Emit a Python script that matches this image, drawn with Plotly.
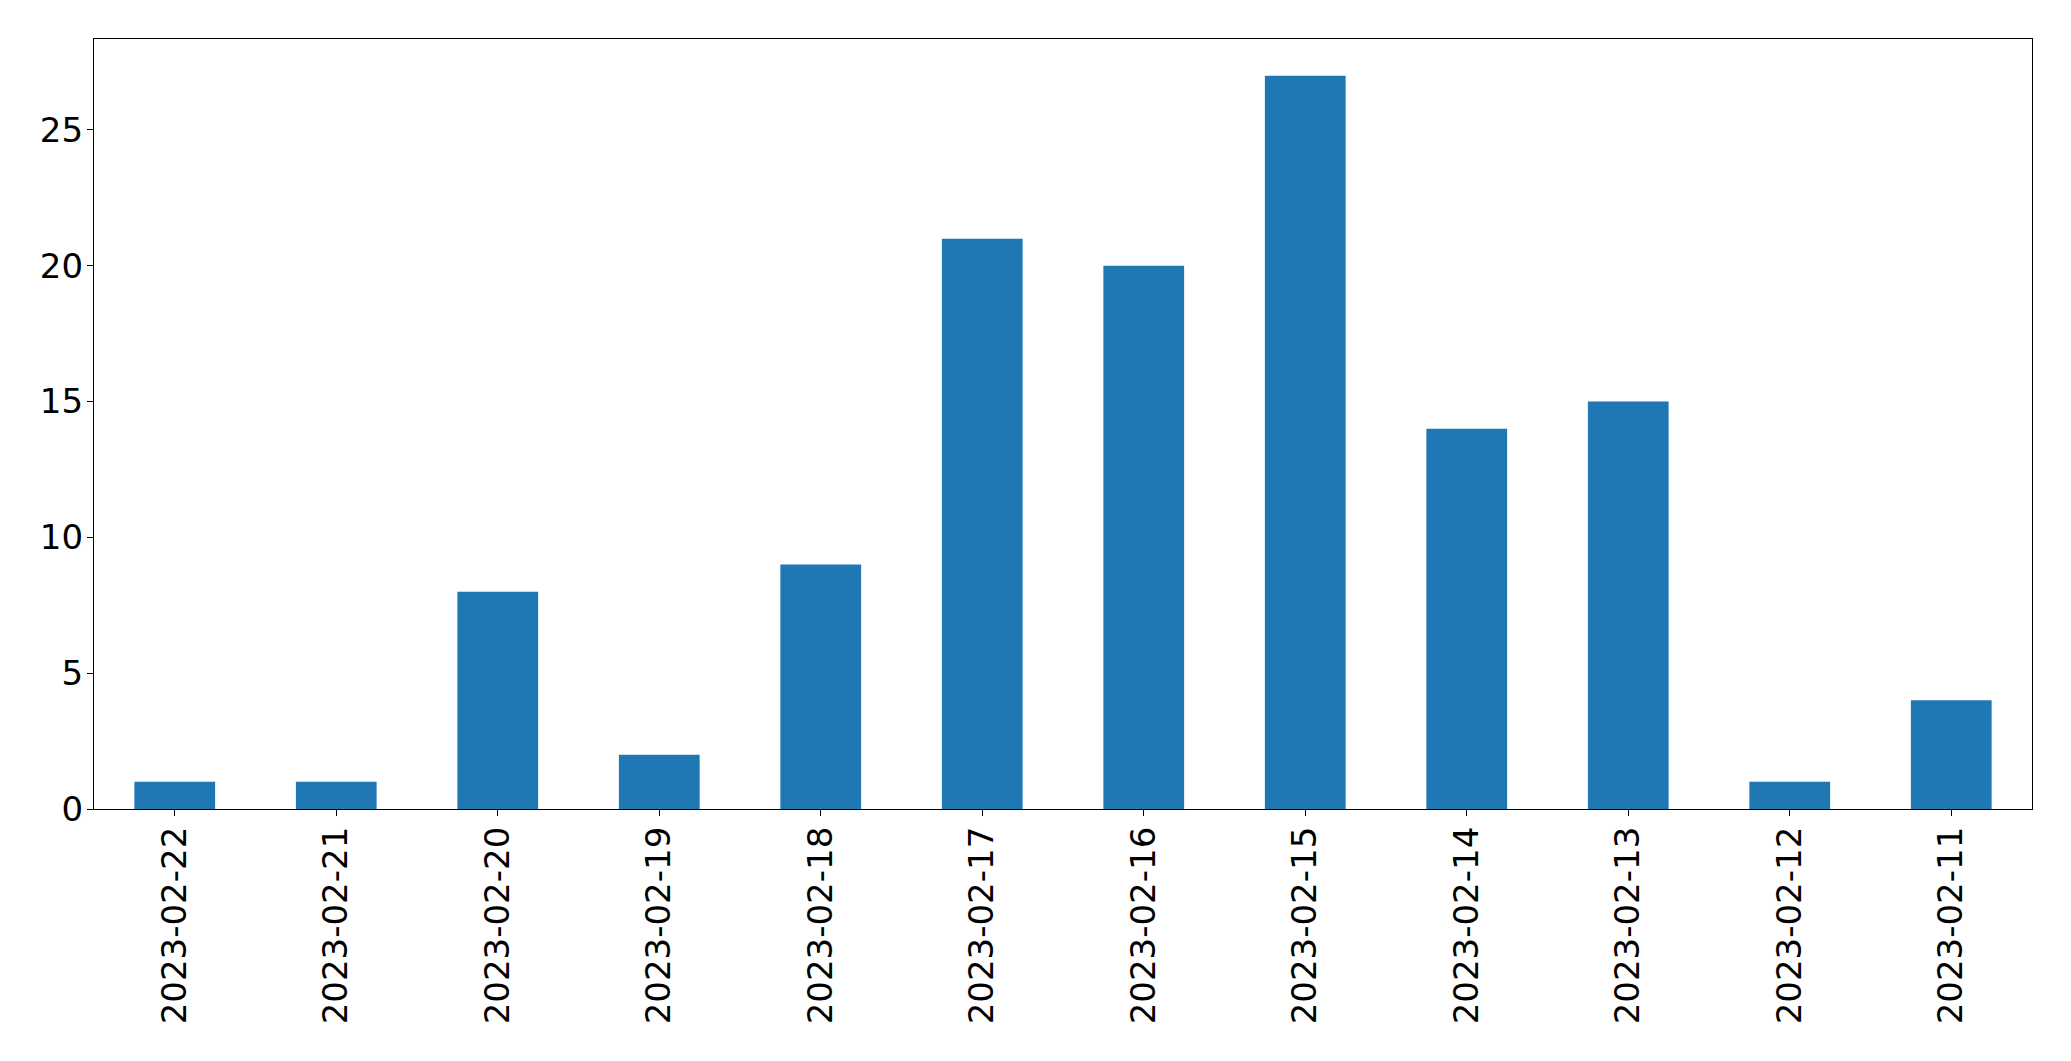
import plotly.graph_objects as go

dates = ["2023-02-22", "2023-02-21", "2023-02-20", "2023-02-19", "2023-02-18", "2023-02-17",
         "2023-02-16", "2023-02-15", "2023-02-14", "2023-02-13", "2023-02-12", "2023-02-11"]
counts = [1, 1, 8, 2, 9, 21, 20, 27, 14, 15, 1, 4]

fig = go.Figure(go.Bar(x=dates, y=counts, marker=dict(color="#1f77b4", line=dict(width=0)), width=0.5))

font = dict(family="DejaVu Sans", size=34, color="black")
fig.update_layout(
    width=2063, height=1053,
    margin=dict(l=86, r=39, t=31, b=252, pad=0),
    plot_bgcolor="white", paper_bgcolor="white",
    showlegend=False,
    font=font,
)
fig.update_xaxes(type="category", range=[-0.5, 11.5], showline=True, linecolor="black", linewidth=1.3,
                 mirror=True, ticks="outside", ticklen=6, tickwidth=1.3, tickcolor="black",
                 tickangle=-90, showgrid=False, zeroline=False, tickfont=font, ticklabelstandoff=-3)
fig.update_yaxes(range=[0, 28.35], showline=True, linecolor="black", linewidth=1.3, mirror=True,
                 ticks="outside", ticklen=6, tickwidth=1.3, tickcolor="black", tickvals=[0, 5, 10, 15, 20, 25],
                 showgrid=False, zeroline=False, tickfont=font, ticklabelstandoff=-3)

fig.write_html("out.html")
